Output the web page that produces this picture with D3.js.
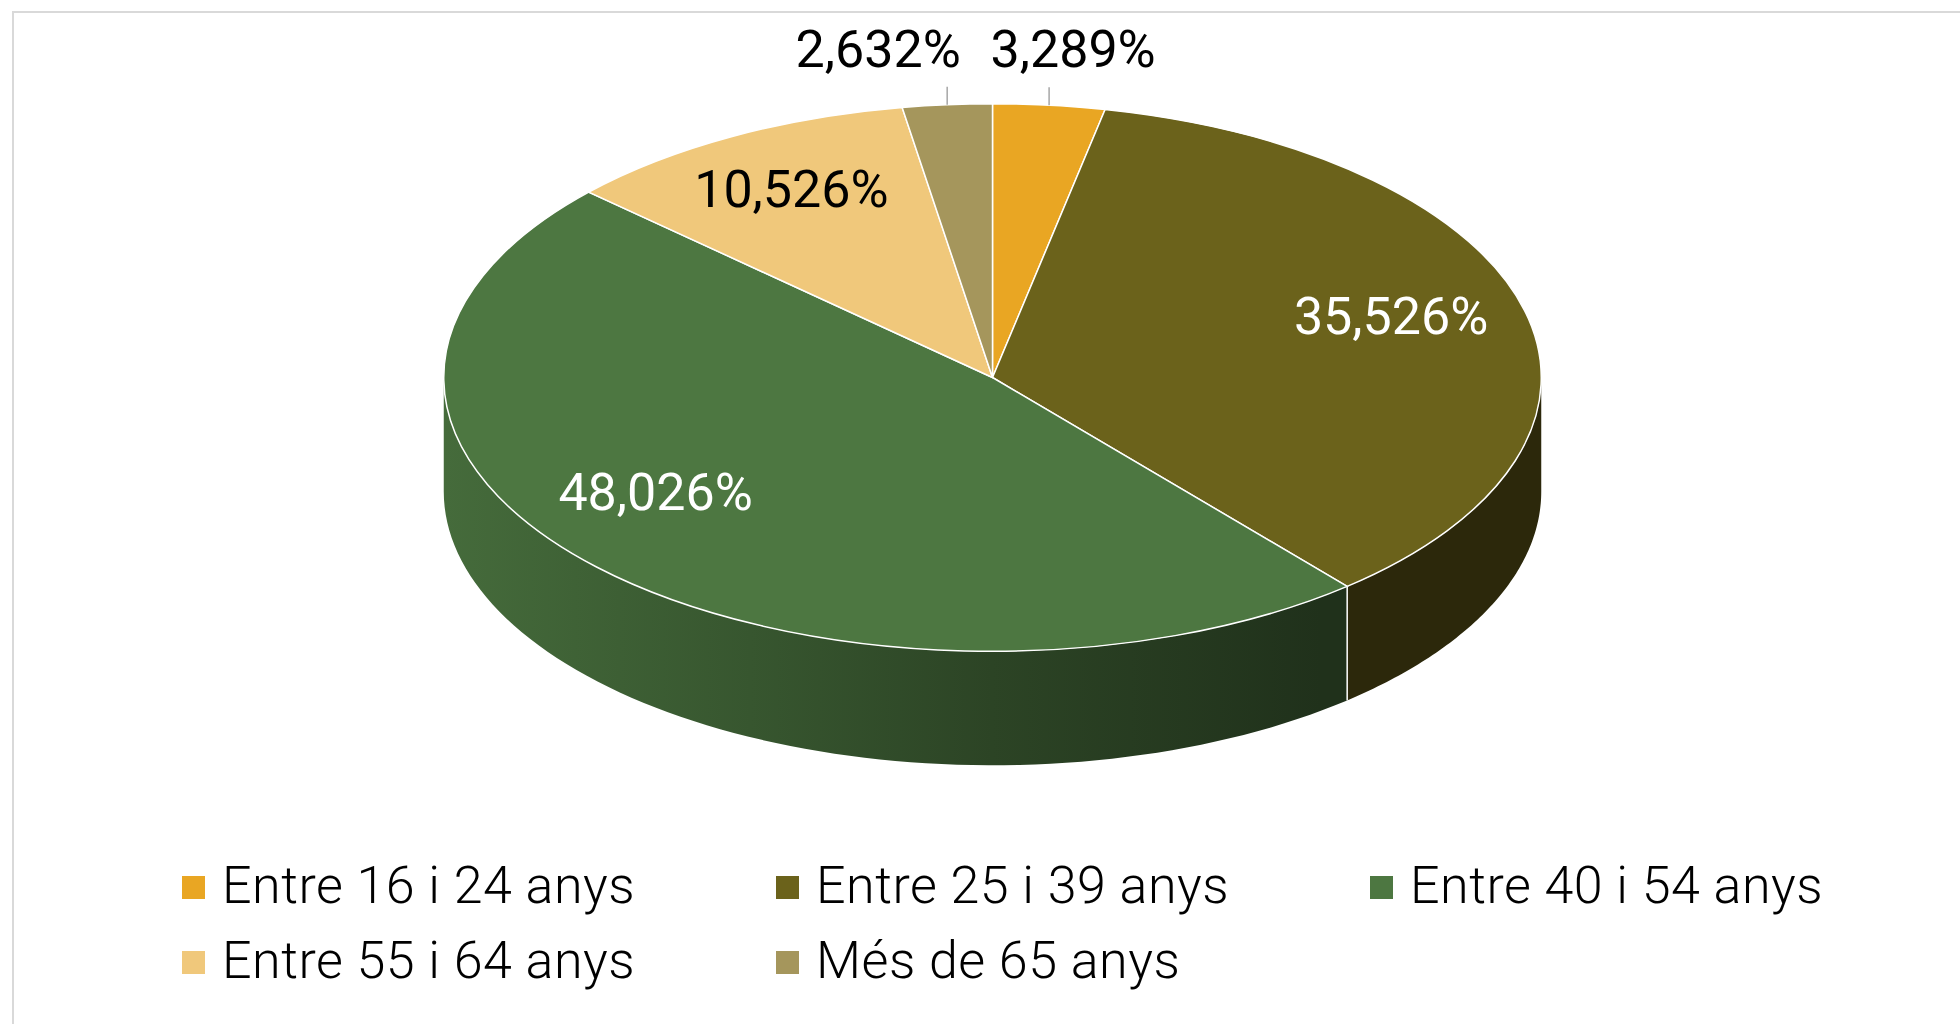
<!DOCTYPE html>
<html>
<head>
<meta charset="utf-8">
<script src="https://cdn.jsdelivr.net/npm/d3@7"></script>
<style>
  html, body { margin: 0; padding: 0; background: #fff; }
  svg { display: block; font-family: Roboto, "Noto Sans", sans-serif; }
</style>
</head>
<body>
<div id="chart"></div>
<script>
const width = 1960, height = 1024

// data
const categories = ["Entre 16 i 24 anys", "Entre 25 i 39 anys", "Entre 40 i 54 anys", "Entre 55 i 64 anys", "Més de 65 anys"]
const values = [3.289, 35.526, 48.026, 10.526, 2.632]
const colors = ["#E9A623", "#6B621B", "#4D7741", "#F0C87B", "#A5965C"]

// pie geometry (3d look: squashed ellipse + side wall)
const cx = 992.5, cy = 377.5
const rx = 548.75, ry = 273.75
const depth = 114

// small hand nudges for the label placement (dx, dy)
const labelNudge = [[24, 0], [-11, -10], [-32, -32], [0, -4], [-69, 0]]

const locale = d3.formatLocale({decimal: ",", thousands: ".", grouping: [3]})
const fmt = v => locale.format(".3f")(v) + "%"

const svg = d3.select("#chart").append("svg")
    .attr("width", width)
    .attr("height", height)
    .attr("viewBox", [0, 0, width, height])

// plot frame
svg.append("path")
    .attr("d", `M13,${height} V12 H${width}`)
    .attr("fill", "none")
    .attr("stroke", "#D9D9D9")
    .attr("stroke-width", 2)

const pie = d3.pie().sort(null).value(d => d)
const arcs = pie(values)

function ept(a, dy) {
    return [cx + rx * Math.sin(a), cy - ry * Math.cos(a) + (dy || 0)]
}

// lighting across the wall, from left (lighter) to right (darker)
const defs = svg.append("defs")
const shade = [[0, 0.9], [0.28, 0.72], [0.5, 0.57], [0.8, 0.41], [1, 0.41]]
colors.forEach((c, i) => {
    const g = defs.append("linearGradient")
        .attr("id", "side" + i)
        .attr("gradientUnits", "userSpaceOnUse")
        .attr("x1", cx - rx).attr("x2", cx + rx)
        .attr("y1", 0).attr("y2", 0)
    const base = d3.rgb(c)
    shade.forEach(s => {
        g.append("stop")
            .attr("offset", s[0])
            .attr("stop-color", d3.rgb(base.r * s[1], base.g * s[1], base.b * s[1]).formatHex())
    })
})

// side wall, only the front half (pi/2 .. 3pi/2) is visible
const sides = svg.append("g")
const line = d3.line()
arcs.forEach((d, i) => {
    const a0 = Math.max(d.startAngle, Math.PI / 2)
    const a1 = Math.min(d.endAngle, 3 * Math.PI / 2)
    if (a1 <= a0) return
    const n = 80
    const top = d3.range(n + 1).map(k => ept(a0 + (a1 - a0) * k / n))
    const bot = top.slice().reverse().map(p => [p[0], p[1] + depth])
    sides.append("path")
        .attr("d", line(top.concat(bot)) + "Z")
        .attr("fill", `url(#side${i})`)
})
// seams between slices on the wall
arcs.forEach(d => {
    const a = d.startAngle
    if (a > Math.PI / 2 && a < 3 * Math.PI / 2) {
        const p = ept(a)
        sides.append("line")
            .attr("x1", p[0]).attr("y1", p[1])
            .attr("x2", p[0]).attr("y2", p[1] + depth)
            .attr("stroke", "#fff")
            .attr("stroke-width", 1.5)
    }
})

// top face
const arc = d3.arc().innerRadius(0).outerRadius(rx)
svg.append("g")
    .attr("transform", `translate(${cx},${cy}) scale(1,${ry / rx})`)
    .selectAll("path")
    .data(arcs)
    .join("path")
    .attr("d", arc)
    .attr("fill", (d, i) => colors[i])
    .attr("stroke", "#fff")
    .attr("stroke-width", 1.5)
    .attr("vector-effect", "non-scaling-stroke")

// data labels
const labels = svg.append("g")
    .attr("font-size", 52)
    .attr("text-anchor", "middle")
const capHalf = 18.5
arcs.forEach((d, i) => {
    const mid = (d.startAngle + d.endAngle) / 2
    const nud = labelNudge[i]
    if (d.data < 5) {
        // outside label with a short leader
        const p = ept(mid)
        labels.append("line")
            .attr("x1", p[0]).attr("y1", p[1])
            .attr("x2", p[0]).attr("y2", p[1] - 18)
            .attr("stroke", "#A6A6A6")
            .attr("stroke-width", 1.5)
        labels.append("text")
            .attr("x", p[0] + nud[0])
            .attr("y", p[1] - 38 + nud[1])
            .attr("fill", "#000")
            .text(fmt(d.data))
    } else {
        const x = cx + 0.77 * rx * Math.sin(mid) + nud[0]
        const y = cy - 0.77 * ry * Math.cos(mid) + nud[1]
        const dark = d3.hsl(colors[i]).l < 0.4
        labels.append("text")
            .attr("x", x)
            .attr("y", y + capHalf)
            .attr("fill", dark ? "#fff" : "#000")
            .text(fmt(d.data))
    }
})

// legend
const legend = svg.append("g")
    .attr("transform", "translate(182,876)")
const item = legend.selectAll("g")
    .data(categories)
    .join("g")
    .attr("transform", (d, i) => `translate(${(i % 3) * 594},${Math.floor(i / 3) * 75})`)
item.append("rect")
    .attr("width", 23)
    .attr("height", 23)
    .attr("fill", (d, i) => colors[i])
item.append("text")
    .attr("x", 40)
    .attr("y", 27)
    .attr("font-size", 52)
    .attr("font-weight", 300)
    .attr("letter-spacing", 0.5)
    .attr("fill", "#000")
    .text(d => d)
</script>
</body>
</html>
